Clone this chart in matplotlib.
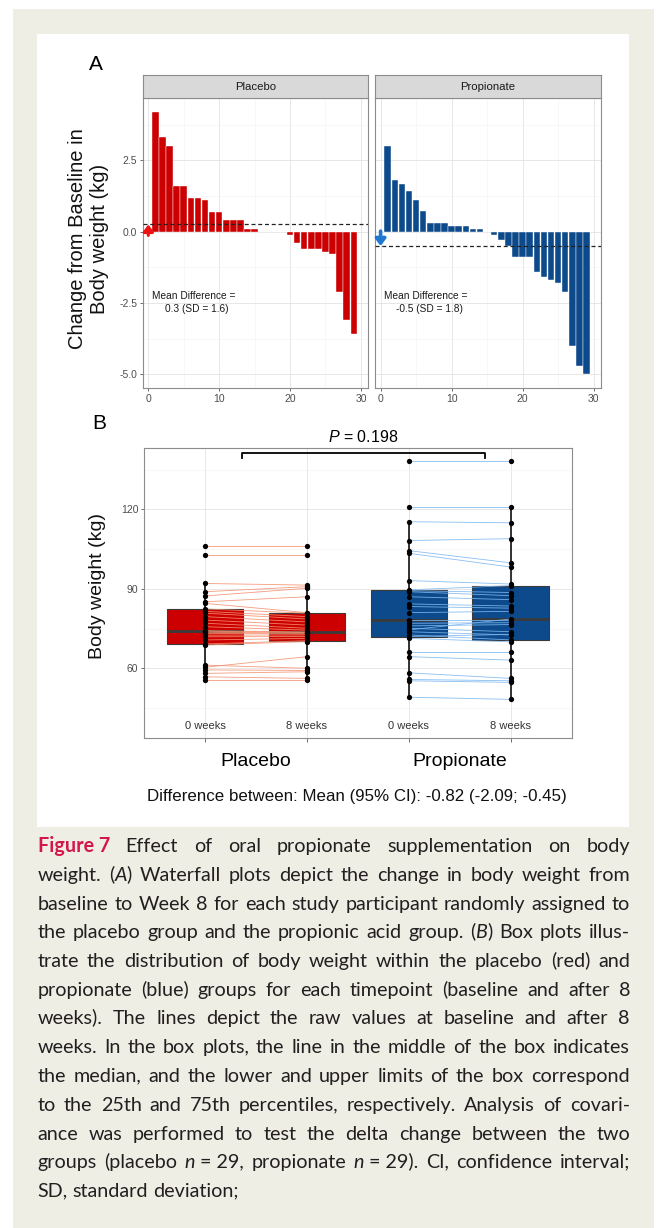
import numpy as np
import matplotlib
matplotlib.use('Agg')
import matplotlib.pyplot as plt
from matplotlib.patches import Rectangle

plt.rcParams['font.family'] = ['Liberation Sans', 'DejaVu Sans']
plt.rcParams['axes.unicode_minus'] = False
plt.rcParams['mathtext.fontset'] = 'custom'
plt.rcParams['mathtext.it'] = 'Liberation Sans:italic'
plt.rcParams['mathtext.rm'] = 'Liberation Sans'

W, H = 657, 1228

# ---- panel A: change from baseline (kg), sorted per participant ----
participants = np.arange(1, 30)
placebo_change = [4.21, 3.31, 3.00, 1.60, 1.60, 1.20, 1.20, 1.11, 0.70, 0.70,
                  0.41, 0.41, 0.41, 0.09, 0.09, 0, 0, 0, 0, -0.12,
                  -0.41, -0.61, -0.61, -0.61, -0.70, -0.79, -2.10, -3.10, -3.60]
propionate_change = [3.00, 1.81, 1.69, 1.43, 1.11, 0.72, 0.29, 0.29, 0.29, 0.20,
                     0.20, 0.20, 0.08, 0.08, 0, -0.11, -0.29, -0.50, -0.90, -0.90,
                     -0.90, -1.40, -1.60, -1.71, -1.80, -2.13, -4.00, -4.70, -5.00]
panel_names = ['Placebo', 'Propionate']
sd_labels = ['1.6', '1.8']

# ---- panel B: body weight (kg) at 0 and 8 weeks, paired ----
placebo_0wk = [106.2, 102.9, 92.0, 88.9, 87.3, 85.1, 84.5, 82.4, 81.5, 80.8,
               79.5, 78.2, 77.0, 75.7, 74.2, 74.0, 73.6, 73.2, 72.5, 71.9,
               70.7, 69.2, 68.8, 60.4, 61.2, 59.4, 58.1, 56.8, 55.6]
placebo_8wk = [106.2, 102.9, 91.4, 90.8, 90.2, 87.0, 81.0, 80.8, 79.5, 78.6,
               77.5, 76.3, 75.1, 74.4, 73.7, 73.5, 73.3, 73.0, 72.6, 72.0,
               71.3, 70.4, 70.1, 64.4, 60.0, 59.2, 58.7, 56.2, 55.6]
propionate_0wk = [138.2, 121.0, 115.3, 108.2, 104.4, 103.4, 93.1, 89.6, 89.3, 88.9,
                  87.0, 84.3, 83.3, 81.0, 78.2, 77.0, 76.0, 75.1, 74.5, 73.8,
                  72.6, 72.0, 71.3, 66.3, 64.4, 58.3, 55.8, 55.3, 49.1]
propionate_8wk = [138.2, 121.0, 114.9, 108.9, 99.8, 98.2, 91.8, 91.2, 88.6, 87.4,
                  85.9, 83.5, 82.7, 81.5, 78.2, 77.2, 76.5, 73.8, 78.6, 72.6,
                  70.7, 72.8, 70.0, 66.3, 63.1, 56.2, 55.3, 54.7, 48.3]
time_labels = ['0 weeks', '8 weeks', '0 weeks', '8 weeks']
group_labels = ['Placebo', 'Propionate']
p_text = '$P$ = 0.198'
diff_text = 'Difference between: Mean (95% CI): -0.82 (-2.09; -0.45)'

caption_lines = [
    "#Figure~7 Effect of oral propionate supplementation on body",
    "weight. (_A_) Waterfall plots depict the change in body weight from",
    "baseline to Week 8 for each study participant randomly assigned to",
    "the placebo group and the propionic acid group. (_B_) Box plots illus-",
    "trate the distribution of body weight within the placebo (red) and",
    "propionate (blue) groups for each timepoint (baseline and after 8",
    "weeks). The lines depict the raw values at baseline and after 8",
    "weeks. In the box plots, the line in the middle of the box indicates",
    "the median, and the lower and upper limits of the box correspond",
    "to the 25th and 75th percentiles, respectively. Analysis of covari-",
    "ance was performed to test the delta change between the two",
    "groups (placebo _n_~=~29, propionate _n_~=~29). CI, confidence interval;",
    "SD, standard deviation;",
]

RED = '#cc0000'
BLUE = '#0d4a8c'
GRID_MAJ = '#e3e3e3'
GRID_MIN = '#f1f1f1'
BORDER = '#8c8c8c'


def rect(x0, y0, x1, y1):
    return [x0 / W, 1 - y1 / H, (x1 - x0) / W, (y1 - y0) / H]


fig = plt.figure(figsize=(W / 100, H / 100), dpi=100)
fig.patch.set_facecolor('white')
fig.add_artist(Rectangle((13 / W, 0), 641 / W, 1 - 9 / H, transform=fig.transFigure,
                         facecolor='#eeeee5', edgecolor='none', zorder=-10))
fig.add_artist(Rectangle((37 / W, 1 - 827 / H), 592 / W, 793 / H, transform=fig.transFigure,
                         facecolor='white', edgecolor='none', zorder=-9))


def style_panel(ax):
    ax.set_facecolor('white')
    for s in ax.spines.values():
        s.set_color(BORDER)
        s.set_linewidth(0.8)
    ax.grid(which='major', color=GRID_MAJ, lw=0.6)
    ax.grid(which='minor', color=GRID_MIN, lw=0.4)
    ax.set_axisbelow(True)
    ax.tick_params(which='major', length=2.5, width=0.6, color='#555555',
                   labelsize=7.5, labelcolor='#4d4d4d', pad=1.5)
    ax.tick_params(which='minor', length=0)


# ---------------- A: waterfall ----------------
fig.text(96 / W, 1 - 65 / H, 'A', fontsize=15, ha='center', va='center')
panel_x = [(142.7, 368.0), (375.0, 600.7)]
changes = [placebo_change, propionate_change]
bar_cols = [RED, BLUE]
arrow_cols = ['#ee1111', '#1e78d2']
arrow_start = [-0.13, 0.02]
for i in range(2):
    x0, x1 = panel_x[i]
    vals = np.array(changes[i])
    ax = fig.add_axes(rect(x0, 98, x1, 388))
    style_panel(ax)
    ax.bar(participants, vals, width=0.92, color=bar_cols[i], edgecolor='white',
           linewidth=0.3, zorder=2)
    mean = vals.mean()
    ax.axhline(mean, color='#222222', ls=(0, (3.2, 2.2)), lw=0.9, zorder=3)
    ax.annotate('', xy=(0, mean), xytext=(0, arrow_start[i]),
                arrowprops=dict(arrowstyle='-|>,head_width=0.3,head_length=0.4',
                                color=arrow_cols[i], lw=2.6 if i else 2.2,
                                shrinkA=0, shrinkB=0), zorder=4)
    ax.set_xlim(-0.79, 31.0)
    ax.set_ylim(-5.48, 4.69)
    ax.set_xticks([0, 10, 20, 30])
    ax.set_xticks([5, 15, 25], minor=True)
    ax.set_yticks([-5, -2.5, 0, 2.5])
    ax.set_yticks([-3.75, -1.25, 1.25, 3.75], minor=True)
    if i == 0:
        ax.set_yticklabels(['-5.0', '-2.5', '0.0', '2.5'])
    else:
        ax.tick_params(axis='y', which='both', left=False, labelleft=False)
    ax.text(6.35, -2.26, 'Mean Difference =', ha='center', va='center',
            fontsize=7.3, color='#1a1a1a')
    ax.text(6.9, -2.72, f'{mean:.1f} (SD = {sd_labels[i]})', ha='center', va='center',
            fontsize=7.3, color='#1a1a1a')

    sax = fig.add_axes(rect(x0, 75, x1, 98))
    sax.set_facecolor('#d9d9d9')
    sax.set_xticks([])
    sax.set_yticks([])
    for s in sax.spines.values():
        s.set_color(BORDER)
        s.set_linewidth(0.8)
    sax.text(0.5, 0.5, panel_names[i], ha='center', va='center', fontsize=8.2,
             color='#1a1a1a', transform=sax.transAxes)

fig.text(88.5 / W, 1 - 239 / H, 'Change from Baseline in\nBody weight (kg)', rotation=90,
         ha='center', va='center', fontsize=14.5, linespacing=1.15, color='#111111')

# ---------------- B: box plots ----------------
fig.text(99 / W, 1 - 424 / H, 'B', fontsize=15, ha='center', va='center')
bax = fig.add_axes(rect(144, 448.3, 571.7, 738.3))
style_panel(bax)
positions = [1, 2, 3, 4]
data = [placebo_0wk, placebo_8wk, propionate_0wk, propionate_8wk]
box_cols = [RED, RED, BLUE, BLUE]
bp = bax.boxplot(data, positions=positions, widths=0.75, patch_artist=True,
                 showcaps=False, showfliers=False, whis=1.5,
                 medianprops=dict(color='#3a3a3a', lw=2.0),
                 boxprops=dict(edgecolor='#3a3a3a', lw=0.8),
                 whiskerprops=dict(color='#111111', lw=1.2), zorder=2)
for patch, c in zip(bp['boxes'], box_cols):
    patch.set_facecolor(c)

line_cols = ['#f5906f', '#7db8f0']
pairs = [(placebo_0wk, placebo_8wk), (propionate_0wk, propionate_8wk)]
for g in range(2):
    a, b = pairs[g]
    xa, xb = positions[2 * g], positions[2 * g + 1]
    for va_, vb_ in zip(a, b):
        bax.plot([xa, xb], [va_, vb_], color=line_cols[g], lw=0.6, alpha=0.9, zorder=3)
for pos, vals in zip(positions, data):
    bax.plot([pos] * len(vals), vals, 'o', color='black', ms=3.8, mew=0, zorder=4)

bax.set_xlim(0.4, 4.6)
bax.set_ylim(33.6, 143.0)
bax.set_yticks([60, 90, 120])
bax.set_yticks([45, 75, 105, 135], minor=True)
bax.set_xticks(positions)
bax.set_xticklabels([])
bax.tick_params(axis='x', length=3)
for pos, lab in zip(positions, time_labels):
    bax.text(pos, 38.2, lab, ha='center', va='center', fontsize=8, color='#333333')

bax.plot([1.36, 1.36, 3.75, 3.75], [139.4, 141.4, 141.4, 139.4], color='black',
         lw=1.3, clip_on=False, zorder=5)
bax.text(2.55, 147.3, p_text, ha='center', va='center', fontsize=11.5, clip_on=False)

xt = bax.get_xaxis_transform()
bax.text(1.5, -0.081, group_labels[0], transform=xt, ha='center', va='center', fontsize=14)
bax.text(3.5, -0.081, group_labels[1], transform=xt, ha='center', va='center', fontsize=14)
fig.text(98 / W, 1 - 586 / H, 'Body weight (kg)', rotation=90, ha='center', va='center',
         fontsize=14, color='#111111')
fig.text(356.5 / W, 1 - 796 / H, diff_text, ha='center', va='center', fontsize=12.2,
         color='#111111')

# ---------------- caption (justified) ----------------
renderer = fig.canvas.get_renderer()
CAP_X0, CAP_X1 = 37.5, 630.0
CAP_Y0, CAP_DY = 852.0, 28.75
CAP_FAMILY = ['Lato', 'DejaVu Sans']


def make_word(word, fs):
    arts = []
    bold = word.startswith('#')
    if bold:
        word = word[1:]
    parts = word.replace('~', ' ').split('_')
    for k, seg in enumerate(parts):
        if not seg:
            continue
        t = fig.text(0, 0, seg, fontsize=fs, family=CAP_FAMILY,
                     style='italic' if k % 2 else 'normal',
                     weight='bold' if bold else 'normal',
                     color='#d3174c' if bold else '#231f20', va='baseline', ha='left')
        arts.append(t)
    widths = [a.get_window_extent(renderer).width for a in arts]
    return arts, widths


def baseline_fix(t):
    # Agg snaps each word's bitmap to whole pixels from its own bbox; work out
    # how far that moves the baseline so all words of a line share one
    _, h, d = renderer.get_text_width_height_descent(t.get_text(), t.get_fontproperties(), False)
    ymax = h - d
    fd = d - np.floor(d)
    fa = ymax - np.floor(ymax)
    return (1 if fd >= 0.5 else 0) - (1 if fa + fd >= 1 else 0)


def space_width(fs):
    p1 = fig.text(0, 0, 'a a', fontsize=fs, family=CAP_FAMILY)
    p2 = fig.text(0, 0, 'aa', fontsize=fs, family=CAP_FAMILY)
    w = p1.get_window_extent(renderer).width - p2.get_window_extent(renderer).width
    p1.remove()
    p2.remove()
    return w


def layout_caption(fs):
    sw = space_width(fs)
    lines = [[make_word(w, fs) for w in line.split(' ')] for line in caption_lines]
    ok = True
    for words in lines[:-1]:
        total = sum(sum(ws) for _, ws in words)
        if total + 0.75 * sw * (len(words) - 1) > CAP_X1 - CAP_X0:
            ok = False
    return lines, sw, ok


cap_fs = 14.2
while True:
    lines, sw, ok = layout_caption(cap_fs)
    if ok or cap_fs < 10:
        break
    for words in lines:
        for arts, _ in words:
            for a in arts:
                a.remove()
    cap_fs -= 0.1

for li, words in enumerate(lines):
    total = sum(sum(ws) for _, ws in words)
    last = li == len(lines) - 1
    gap = sw if last else (CAP_X1 - CAP_X0 - total) / (len(words) - 1)
    ybase = H - round(CAP_Y0 + li * CAP_DY)
    x = CAP_X0
    for arts, ws in words:
        for a, w in zip(arts, ws):
            a.set_position((x / W, (ybase + baseline_fix(a)) / H))
            x += w
        x += gap

fig.savefig('out.png', dpi=100, facecolor=fig.get_facecolor())
